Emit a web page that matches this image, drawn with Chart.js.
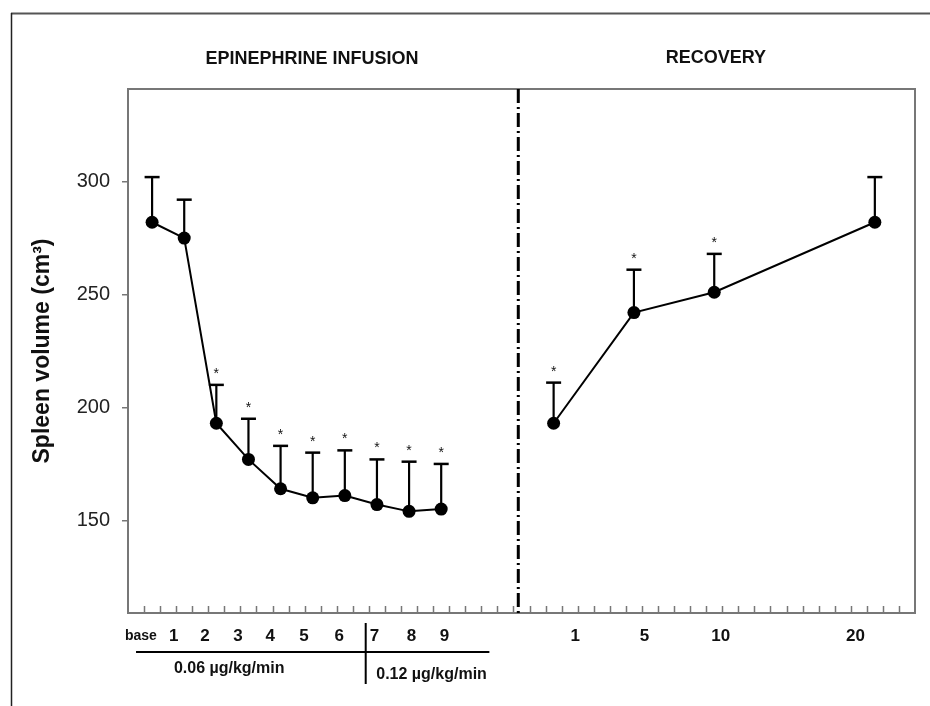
<!DOCTYPE html>
<html lang="en">
<head>
    <meta charset="UTF-8">
    <title>Spleen volume</title>
    <script src="https://cdn.jsdelivr.net/npm/chart.js"></script>
    <style>
        body { margin: 0; background: #fff; }
        canvas { display: block; }
    </style>
</head>
<body>
    <canvas id="spleenChart" width="930" height="706"></canvas>

    <script>
        // time points, in axis units (one minor tick = one unit)
        const infusionX = [1.5, 3.5, 5.5, 7.5, 9.5, 11.5, 13.5, 15.5, 17.5, 19.5];
        const infusionMean = [282, 275, 193, 177, 164, 160, 161, 157, 154, 155];
        const infusionSE = [20, 17, 17, 18, 19, 20, 20, 20, 22, 20];
        const infusionSig = [false, false, true, true, true, true, true, true, true, true];

        const recoveryX = [26.5, 31.5, 36.5, 46.5];
        const recoveryMean = [193, 242, 251, 282];
        const recoverySE = [18, 19, 17, 20];
        const recoverySig = [true, true, true, false];

        // tick labels under the axis
        const infusionLabels = ['base', '1', '2', '3', '4', '5', '6', '7', '8', '9'];
        const infusionLabelX = [0.8, 2.85, 4.8, 6.85, 8.85, 10.95, 13.15, 15.35, 17.65, 19.7];
        const recoveryLabels = ['1', '5', '10', '20'];
        const recoveryLabelX = [27.85, 32.15, 36.9, 45.3];

        const yTicks = [150, 200, 250, 300];
        const phaseSplit = 24.3;      // dash-dot line between infusion and recovery
        const doseSplit = 14.8;       // 0.06 -> 0.12 µg/kg/min

        const FONT = "Arial, 'Liberation Sans', sans-serif";
        const INK = '#111';
        const AXIS = '#777';

        function toPoints(xs, ys) {
            return xs.map((x, i) => ({ x: x, y: ys[i] }));
        }

        // error bars, asterisks, frame and annotations
        const extrasPlugin = {
            id: 'extras',
            beforeDatasetsDraw(chart) {
                const ctx = chart.ctx;
                const xs = chart.scales.x, ys = chart.scales.y;
                const area = chart.chartArea;

                ctx.save();
                // plot frame
                ctx.strokeStyle = AXIS;
                ctx.lineWidth = 2;
                ctx.strokeRect(area.left, area.top, area.right - area.left, area.bottom - area.top);

                // inner minor ticks on the x axis
                ctx.lineWidth = 1.5;
                xs.ticks.forEach(t => {
                    const px = Math.round(xs.getPixelForValue(t.value)) + 0.5;
                    ctx.beginPath();
                    ctx.moveTo(px, area.bottom);
                    ctx.lineTo(px, area.bottom - 7);
                    ctx.stroke();
                });

                // dash-dot separator
                const sx = xs.getPixelForValue(phaseSplit);
                ctx.strokeStyle = '#000';
                ctx.lineWidth = 3;
                ctx.setLineDash([14, 4, 2, 4]);
                ctx.beginPath();
                ctx.moveTo(sx, area.top);
                ctx.lineTo(sx, area.bottom);
                ctx.stroke();
                ctx.setLineDash([]);

                // error bars (upper only) + significance marks
                const groups = [
                    [infusionX, infusionMean, infusionSE, infusionSig],
                    [recoveryX, recoveryMean, recoverySE, recoverySig]
                ];
                ctx.strokeStyle = '#000';
                ctx.fillStyle = INK;
                ctx.font = '14px ' + FONT;
                ctx.textAlign = 'center';
                ctx.textBaseline = 'alphabetic';
                groups.forEach(([gx, gm, gse, gsig]) => {
                    gx.forEach((x, i) => {
                        const px = xs.getPixelForValue(x);
                        const py = ys.getPixelForValue(gm[i]);
                        const top = ys.getPixelForValue(gm[i] + gse[i]);
                        ctx.lineWidth = 2.2;
                        ctx.beginPath();
                        ctx.moveTo(px, py);
                        ctx.lineTo(px, top);
                        ctx.stroke();
                        ctx.lineWidth = 2.5;
                        ctx.beginPath();
                        ctx.moveTo(px - 7.5, top);
                        ctx.lineTo(px + 7.5, top);
                        ctx.stroke();
                        if (gsig[i]) ctx.fillText('*', px, top - 7);
                    });
                });
                ctx.restore();
            },
            afterDraw(chart) {
                const ctx = chart.ctx;
                const xs = chart.scales.x;
                const area = chart.chartArea;
                ctx.save();

                // outer figure frame
                ctx.strokeStyle = '#555';
                ctx.lineWidth = 2;
                ctx.beginPath();
                ctx.moveTo(11, 13.5);
                ctx.lineTo(930, 13.5);
                ctx.stroke();
                ctx.strokeStyle = '#222';
                ctx.lineWidth = 1.5;
                ctx.beginPath();
                ctx.moveTo(11.5, 13);
                ctx.lineTo(11.5, 706);
                ctx.stroke();

                // phase headers
                ctx.fillStyle = INK;
                ctx.textAlign = 'center';
                ctx.textBaseline = 'middle';
                ctx.font = 'bold 18px ' + FONT;
                ctx.fillText('EPINEPHRINE INFUSION', xs.getPixelForValue(11.45), 59);
                ctx.fillText('RECOVERY', xs.getPixelForValue(36.6), 58);

                // x tick labels
                const ly = area.bottom + 23;
                infusionLabels.forEach((t, i) => {
                    ctx.font = (t === 'base' ? 'bold 14px ' : 'bold 17px ') + FONT;
                    ctx.fillText(t, xs.getPixelForValue(infusionLabelX[i]), ly);
                });
                ctx.font = 'bold 17px ' + FONT;
                recoveryLabels.forEach((t, i) => {
                    ctx.fillText(t, xs.getPixelForValue(recoveryLabelX[i]), ly);
                });

                // dose bracket
                const dx = xs.getPixelForValue(doseSplit);
                ctx.strokeStyle = '#000';
                ctx.lineWidth = 2;
                ctx.beginPath();
                ctx.moveTo(xs.getPixelForValue(0.5), 652);
                ctx.lineTo(xs.getPixelForValue(22.5), 652);
                ctx.moveTo(dx, 623);
                ctx.lineTo(dx, 684);
                ctx.stroke();
                ctx.font = 'bold 16px ' + FONT;
                ctx.fillText('0.06 µg/kg/min', xs.getPixelForValue(6.3), 669);
                ctx.fillText('0.12 µg/kg/min', xs.getPixelForValue(18.9), 675);
                ctx.restore();
            }
        };

        const lineStyle = {
            borderColor: '#000',
            borderWidth: 2,
            pointRadius: 6.5,
            pointBorderWidth: 0,
            pointBackgroundColor: '#000',
            fill: false,
            tension: 0
        };

        new Chart(document.getElementById('spleenChart'), {
            type: 'line',
            data: {
                datasets: [
                    Object.assign({ label: 'Infusion', data: toPoints(infusionX, infusionMean) }, lineStyle),
                    Object.assign({ label: 'Recovery', data: toPoints(recoveryX, recoveryMean) }, lineStyle)
                ]
            },
            options: {
                responsive: false,
                animation: false,
                layout: { padding: { left: 0, right: 15, top: 89, bottom: 0 } },
                plugins: { legend: { display: false }, tooltip: { enabled: false } },
                scales: {
                    x: {
                        type: 'linear', min: 0, max: 49,
                        afterFit: s => { s.height = 93; },
                        afterBuildTicks: s => {
                            const t = [];
                            for (let v = 1; v < 49; v++) t.push({ value: v });
                            s.ticks = t;
                        },
                        ticks: { display: false },
                        grid: { display: false },
                        border: { display: false }
                    },
                    y: {
                        min: 109, max: 341,
                        afterFit: s => { s.width = 128; },
                        afterBuildTicks: s => { s.ticks = yTicks.map(v => ({ value: v })); },
                        ticks: { color: '#222', padding: 12, font: { family: FONT, size: 20 } },
                        grid: { drawOnChartArea: false, tickLength: 6, color: AXIS, lineWidth: 1.5 },
                        border: { display: false },
                        title: {
                            display: true,
                            text: 'Spleen volume (cm³)',
                            color: INK,
                            font: { family: FONT, size: 23, weight: 'bold' },
                            padding: { top: 29, bottom: 0 }
                        }
                    }
                }
            },
            plugins: [extrasPlugin]
        });
    </script>
</body>
</html>
